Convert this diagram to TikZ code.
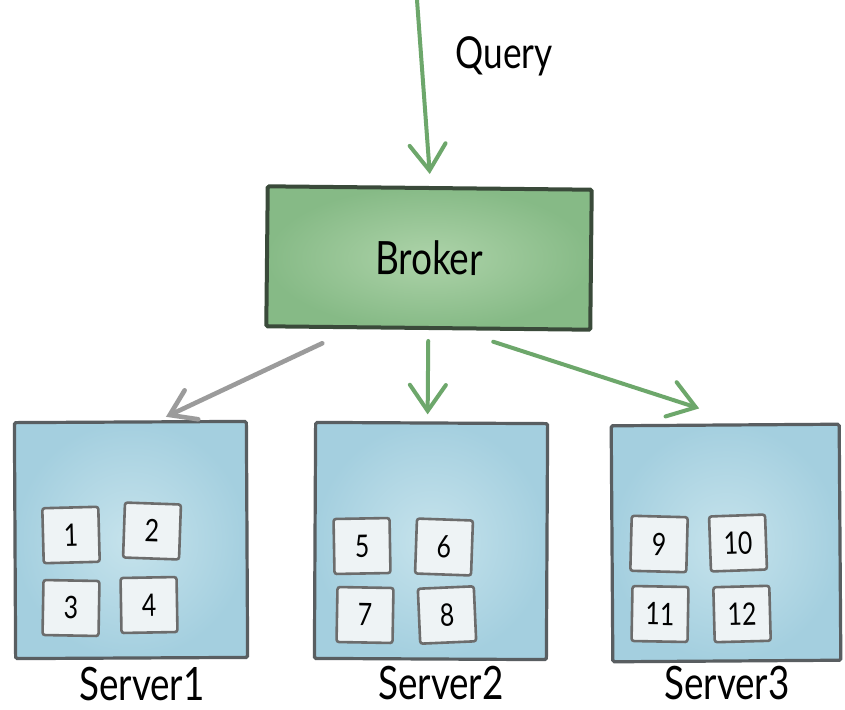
\documentclass[tikz,border=0pt]{standalone}
\usepackage{fontspec}
\setmainfont{Lato}[FakeStretch=0.8]
\usetikzlibrary{arrows.meta}

\definecolor{brokerin}{HTML}{ADD3A9}
\definecolor{brokerout}{HTML}{86BA86}
\definecolor{brokerline}{HTML}{3A4A3A}
\definecolor{serverin}{HTML}{C6E3EC}
\definecolor{serverout}{HTML}{A4CFDF}
\definecolor{serverline}{HTML}{595E61}
\definecolor{shardfill}{HTML}{EEF3F5}
\definecolor{shardline}{HTML}{6C6C6C}
\definecolor{arrowgreen}{HTML}{6DA76B}
\definecolor{arrowgrey}{HTML}{9B9B9B}

\tikzset{
  brokerbox/.style={draw=brokerline, line width=4pt, inner color=brokerin, outer color=brokerout,
    minimum width=324pt, minimum height=140pt, rounded corners=1.5pt,
    font=\fontsize{46}{50}\selectfont},
  serverbox/.style={draw=serverline, line width=3.2pt, inner color=serverin, outer color=serverout,
    minimum width=232pt, minimum height=236pt, rounded corners=1.5pt},
  shard/.style={draw=shardline, line width=2.6pt, fill=shardfill, minimum width=56pt,
    minimum height=55pt, rounded corners=2.5pt, font=\fontsize{31}{34}\selectfont},
  caption/.style={anchor=base, font=\fontsize{46}{50}\selectfont},
  flow/.style={draw=arrowgreen, line width=4pt, line cap=round,
    -{Straight Barb[length=26pt,width=36pt,line cap=round]}},
  flowgrey/.style={draw=arrowgrey, line width=4.6pt, line cap=round,
    -{Straight Barb[length=24pt,width=32pt,line cap=round]}},
}

\begin{document}
\begin{tikzpicture}[x=1pt,y=-1pt]
\useasboundingbox (0,0) rectangle (845,709);
\fill[white] (0,0) rectangle (845,709);

% broker
\node[brokerbox, rotate=-0.6] (broker) at (429,258) {Broker};

% servers
\node[serverbox, rotate=0.3]  (s1) at (131,540) {};
\node[serverbox, rotate=-0.3] (s2) at (431,541) {};
\node[serverbox, minimum width=228pt, rotate=0.4] (s3) at (726,543) {};

% segments held by each server
\node[shard, rotate=1.5]  (p1)  at (71,535)  {1};
\node[shard, rotate=-2]   (p2)  at (152,531) {2};
\node[shard, rotate=-1]   (p3)  at (71,608)  {3};
\node[shard, rotate=1]    (p4)  at (149,605) {4};
\node[shard, rotate=1]    (p5)  at (362,546) {5};
\node[shard, rotate=-2]   (p6)  at (444,547) {6};
\node[shard, rotate=-1]   (p7)  at (365,615) {7};
\node[shard, rotate=2.5]  (p8)  at (447,615) {8};
\node[shard, rotate=-1.5] (p9)  at (659,544) {9};
\node[shard, rotate=2]    (p10) at (738,543) {10};
\node[shard, rotate=-1]   (p11) at (660,614) {11};
\node[shard, rotate=1.5]  (p12) at (742,614) {12};

% captions
\node[caption] (l1) at (142,700) {Server1};
\node[caption] (l2) at (441,699) {Server2};
\node[caption] (l3) at (727,699) {Server3};

% incoming query
\coordinate (q0) at (417,0);
\node[anchor=base, font=\fontsize{44}{48}\selectfont] (qlabel) at (504,68) {Query};
\draw[flow] (q0) -- ([yshift=12pt]broker.north);

% fan-out to the servers
\draw[flowgrey] ([xshift=58pt,yshift=-15pt]broker.south west) -- ([xshift=-82pt,yshift=3pt]s1.north east);
\draw[flow] ([yshift=-11pt]broker.south) -- ([xshift=-4pt,yshift=7pt]s2.north);
\draw[flow] ([xshift=-99pt,yshift=-10pt]broker.south east) -- ([xshift=-26pt,yshift=15pt]s3.north);
\end{tikzpicture}
\end{document}
